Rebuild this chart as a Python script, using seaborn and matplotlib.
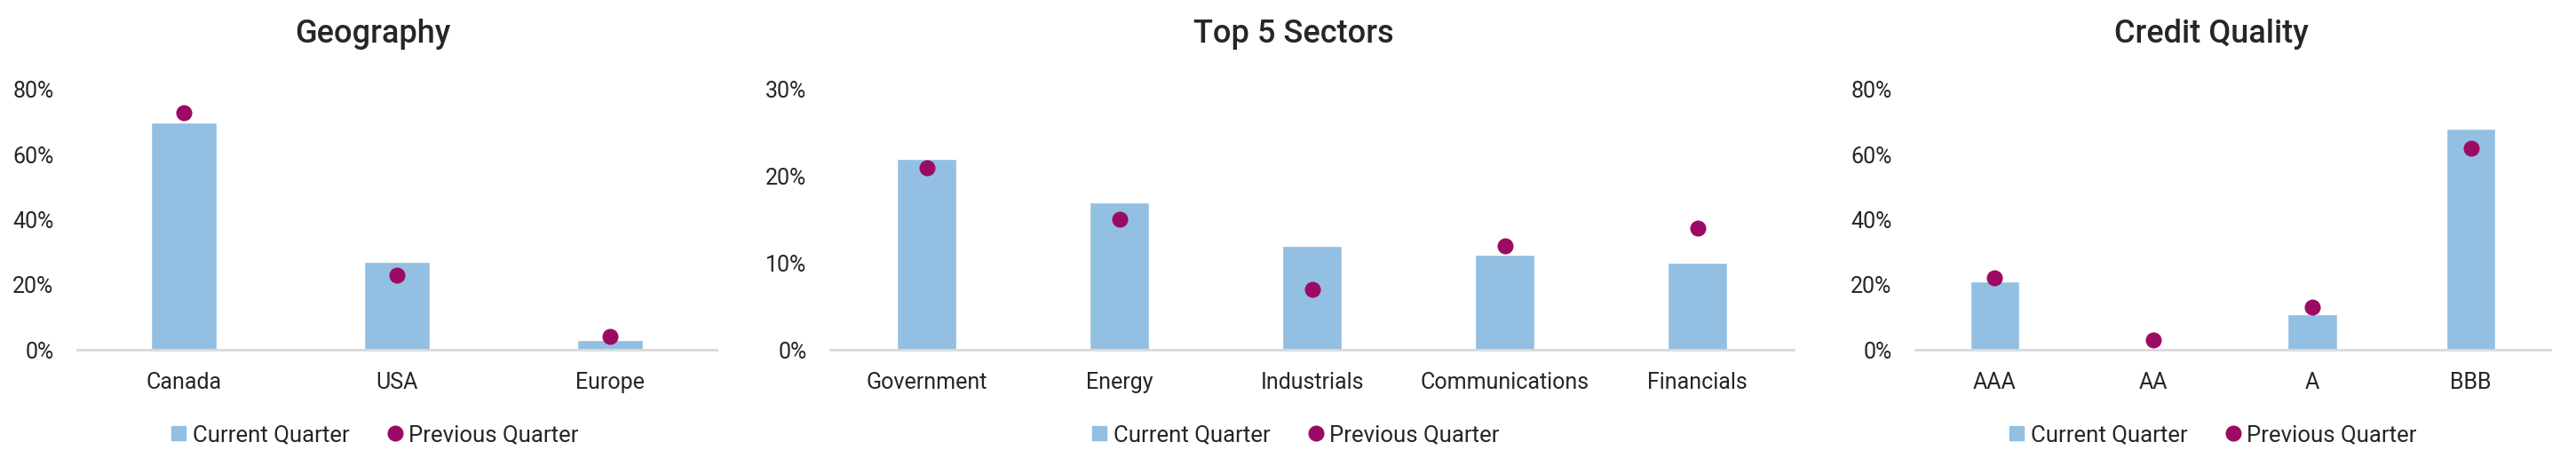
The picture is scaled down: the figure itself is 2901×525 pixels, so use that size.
import matplotlib
matplotlib.use("Agg")
from matplotlib import pyplot as plt
from matplotlib.lines import Line2D
from matplotlib.ticker import PercentFormatter
import seaborn as sns

# data (fractions)
geo_labels = ["Canada", "USA", "Europe"]
geo_current = [0.70, 0.27, 0.03]
geo_previous = [0.73, 0.23, 0.04]

sector_labels = ["Government", "Energy", "Industrials", "Communications", "Financials"]
sector_current = [0.22, 0.17, 0.12, 0.11, 0.10]
sector_previous = [0.21, 0.15, 0.07, 0.12, 0.14]

credit_labels = ["AAA", "AA", "A", "BBB"]
credit_current = [0.21, 0.0, 0.11, 0.68]
credit_previous = [0.22, 0.03, 0.13, 0.62]

BAR_COLOR = "#92BFE2"
DOT_COLOR = "#9C0B63"
BASE_COLOR = "#D9D9D9"

sns.set_style("white")
plt.rcParams['font.family'] = ['Roboto', 'DejaVu Sans']

W, H = 2901, 525
fig = plt.figure(figsize=(W / 100, H / 100), dpi=100)

# (title, labels, current, previous, y max, y step, axes px left/right, centre px for title+legend)
panels = [
    ("Geography", geo_labels, geo_current, geo_previous, 0.8, 0.2, 87, 807, 420),
    ("Top 5 Sectors", sector_labels, sector_current, sector_previous, 0.3, 0.1, 935, 2020, 1457),
    ("Credit Quality", credit_labels, credit_current, credit_previous, 0.8, 0.2, 2157, 2872, 2490),
]

bottom = 1 - 394 / H
top = 1 - 101 / H

for title, labels, cur, prev, ymax, step, x0, x1, xc in panels:
    ax = fig.add_axes([x0 / W, bottom, (x1 - x0) / W, top - bottom])
    sns.barplot(x=labels, y=cur, color=BAR_COLOR, width=0.31, saturation=1, ax=ax)
    sns.stripplot(x=labels, y=prev, color=DOT_COLOR, jitter=False, size=13,
                  linewidth=0, ax=ax, zorder=3)

    ax.set_xlim(-0.5, len(labels) - 0.5)
    ax.set_ylim(0, ymax)
    ticks = [i * step for i in range(int(round(ymax / step)) + 1)]
    ax.set_yticks(ticks)
    ax.yaxis.set_major_formatter(PercentFormatter(xmax=1, decimals=0))
    ax.tick_params(axis='y', length=0, pad=19, labelsize=18)
    ax.tick_params(axis='x', length=0, pad=18, labelsize=18)

    for side in ["top", "right", "left"]:
        ax.spines[side].set_visible(False)
    ax.spines["bottom"].set_color(BASE_COLOR)
    ax.spines["bottom"].set_linewidth(2)
    ax.set_clip_on(False)

    fig.text(xc / W, 1 - 39 / H, title, ha='center', va='center', fontsize=26,
             fontweight='medium')

    handles = [
        Line2D([], [], marker='s', linestyle='none', color=BAR_COLOR, markersize=11),
        Line2D([], [], marker='o', linestyle='none', color=DOT_COLOR, markersize=12),
    ]
    fig.legend(handles, ["Current Quarter", "Previous Quarter"], loc='center',
               bbox_to_anchor=(xc / W, 1 - 490 / H), ncol=2, frameon=False,
               fontsize=18.5, handletextpad=0.1, columnspacing=1.5, handlelength=1.0)

plt.savefig("out.png", dpi=100)
